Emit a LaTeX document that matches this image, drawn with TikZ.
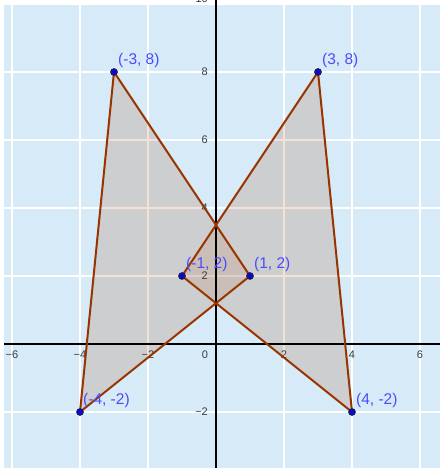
\documentclass[tikz,border=0pt]{standalone}
\usepackage{fontspec}
\setmainfont{Liberation Sans}
\definecolor{bgblue}{RGB}{214,235,247}
\definecolor{greyfill}{RGB}{205,206,208}
\definecolor{peach}{RGB}{243,224,214}
\definecolor{diamondc}{RGB}{201,190,184}
\definecolor{diamondgrid}{RGB}{224,208,200}
\definecolor{edgec}{RGB}{153,51,0}
\definecolor{ptblue}{RGB}{10,10,200}
\definecolor{lblblue}{RGB}{75,75,255}
\definecolor{tickc}{RGB}{60,60,60}
\begin{document}
\begin{tikzpicture}[x=34pt,y=34pt,
  gridline/.style={white,line width=2pt},
  peachgrid/.style={peach,line width=2pt},
  edge/.style={draw=edgec,line width=2pt,line join=round,line cap=round},
  pt/.style={circle,fill=ptblue,draw=black!85,line width=0.6pt,inner sep=0pt,minimum size=7pt},
  ptlabel/.style={text=lblblue,font=\fontsize{15.5}{18}\selectfont,inner sep=0pt,anchor=base west,xshift=4pt,yshift=7.5pt},
  tick/.style={text=tickc,font=\fontsize{11}{13}\selectfont,inner sep=0pt},
  axis/.style={black,line width=1.5pt}]
\useasboundingbox (-6.3529,-3.6471) rectangle (6.5882,10.1176);
\fill[white] (-6.3529,-3.6471) rectangle (6.5882,10.1176);
\fill[bgblue] (-6.2353,-3.6471) rectangle (6.5882,9.9706);
\foreach \x in {-6,-4,-2,2,4,6} \draw[gridline] (\x,-3.6471) -- (\x,9.9706);
\foreach \y in {-2,2,4,6,8} \draw[gridline] (-6.2353,\y) -- (6.5882,\y);
% vertices
\coordinate (A) at (-3,8);
\coordinate (B) at (-4,-2);
\coordinate (D) at (1,2);
\coordinate (E) at (3,8);
\coordinate (F) at (-1,2);
\coordinate (C) at (4,-2);
\coordinate (T) at (0,3.5);
\coordinate (M) at (0,1.2);
% fills
\fill[greyfill] (A) -- (B) -- (D) -- cycle (E) -- (F) -- (C) -- cycle;
\begin{scope}
  \clip (A) -- (B) -- (D) -- cycle (E) -- (F) -- (C) -- cycle;
  \foreach \x in {-6,-4,-2,2,4,6} \draw[peachgrid] (\x,-3.6471) -- (\x,9.9706);
  \foreach \y in {-2,2,4,6,8} \draw[peachgrid] (-6.2353,\y) -- (6.5882,\y);
\end{scope}
\fill[diamondc] (T) -- (F) -- (M) -- (D) -- cycle;
\begin{scope}
  \clip (T) -- (F) -- (M) -- (D) -- cycle;
  \draw[diamondgrid,line width=2pt] (-1,2) -- (1,2);
\end{scope}
% axes
\draw[axis] (-6.2353,0) -- (6.5882,0);
\draw[axis] (0,-3.6471) -- (0,10.1176);
% tick labels
\foreach \x/\t in {-6/−6,-4/−4,-2/−2,2/2,4/4,6/6}
  \node[tick] (tx\x) at (\x,-0.3235) {\t};
\node[tick] (tx0) at (-0.3235,-0.3235) {0};
\foreach \y/\t in {-2/−2,2/2,4/4,6/6,8/8,10.16/10}
  \node[tick,anchor=east] (ty\y) at (-0.235,\y) {\t};
% edges
\draw[edge] (A) -- (B) -- (D) -- cycle;
\draw[edge] (E) -- (C) -- (F) -- cycle;
% points
\foreach \p in {A,B,C,D,E,F} \node[pt] (p\p) at (\p) {};
% labels
\node[ptlabel] (lA) at (A) {(-3, 8)};
\node[ptlabel] (lE) at (E) {(3, 8)};
\node[ptlabel] (lF) at (F) {(-1, 2)};
\node[ptlabel] (lD) at (D) {(1, 2)};
\node[ptlabel,xshift=-1pt] (lB) at (B) {(-4, -2)};
\node[ptlabel] (lC) at (C) {(4, -2)};
\end{tikzpicture}
\end{document}
